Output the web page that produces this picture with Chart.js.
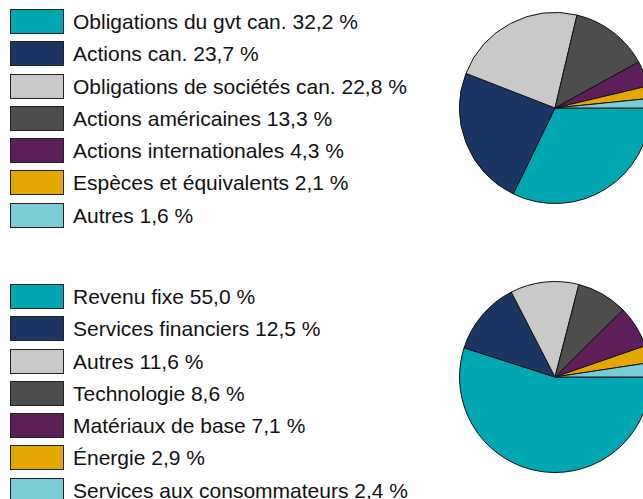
<!DOCTYPE html>
<html>
<head>
<meta charset="utf-8">
<script src="https://cdn.jsdelivr.net/npm/chart.js@4/dist/chart.umd.min.js"></script>
<style>
  html, body { margin: 0; padding: 0; background: #fff; }
  body { width: 643px; height: 499px; overflow: hidden; position: relative;
         font-family: "Liberation Sans", Arial, sans-serif; }
  .legend { position: absolute; left: 10px; }
  .row { position: relative; height: 32.3px; }
  .box { position: absolute; left: 0; top: 0; width: 52px; height: 23px;
         border: 1px solid #222; }
  .lbl { position: absolute; left: 63px; top: 12px; transform: translateY(-50%);
         font-size: 21px; color: #111; white-space: nowrap; line-height: 1; }
  .pie { position: absolute; }
</style>
</head>
<body>
<div class="legend" id="legend1" style="top:9px"></div>
<div class="legend" id="legend2" style="top:284px"></div>
<div class="pie" style="left:459px;top:12px"><canvas id="pie1" width="192" height="192"></canvas></div>
<div class="pie" style="left:459px;top:281px"><canvas id="pie2" width="192" height="192"></canvas></div>
<script>
// Asset mix
const assetLabels = ["Obligations du gvt can.", "Actions can.", "Obligations de sociétés can.",
  "Actions américaines", "Actions internationales", "Espèces et équivalents", "Autres"];
const assetValues = [32.2, 23.7, 22.8, 13.3, 4.3, 2.1, 1.6];

// Sector mix
const sectorLabels = ["Revenu fixe", "Services financiers", "Autres", "Technologie",
  "Matériaux de base", "Énergie", "Services aux consommateurs"];
const sectorValues = [55.0, 12.5, 11.6, 8.6, 7.1, 2.9, 2.4];

const sliceColors = ["#00a6b0", "#1c3664", "#c9c9c9", "#4d4d4d", "#5c1f5a", "#e4a600", "#79ccd8"];

const pct = v => v.toFixed(1).replace(".", ",") + " %";

function buildLegend(id, labels, values) {
  const el = document.getElementById(id);
  labels.forEach((name, i) => {
    const row = document.createElement("div");
    row.className = "row";
    const box = document.createElement("div");
    box.className = "box";
    box.style.background = sliceColors[i];
    const lbl = document.createElement("div");
    lbl.className = "lbl";
    lbl.textContent = name + " " + pct(values[i]);
    row.appendChild(box);
    row.appendChild(lbl);
    el.appendChild(row);
  });
}

function buildPie(id, labels, values) {
  return new Chart(document.getElementById(id), {
    type: "pie",
    data: {
      labels: labels,
      datasets: [{
        data: values,
        backgroundColor: sliceColors,
        borderColor: "#111",
        borderWidth: 1
      }]
    },
    options: {
      responsive: false,
      animation: false,
      rotation: 90,
      layout: { padding: 0 },
      plugins: { legend: { display: false }, tooltip: { enabled: false } }
    }
  });
}

buildLegend("legend1", assetLabels, assetValues);
buildLegend("legend2", sectorLabels, sectorValues);
buildPie("pie1", assetLabels, assetValues);
buildPie("pie2", sectorLabels, sectorValues);
</script>
</body>
</html>
